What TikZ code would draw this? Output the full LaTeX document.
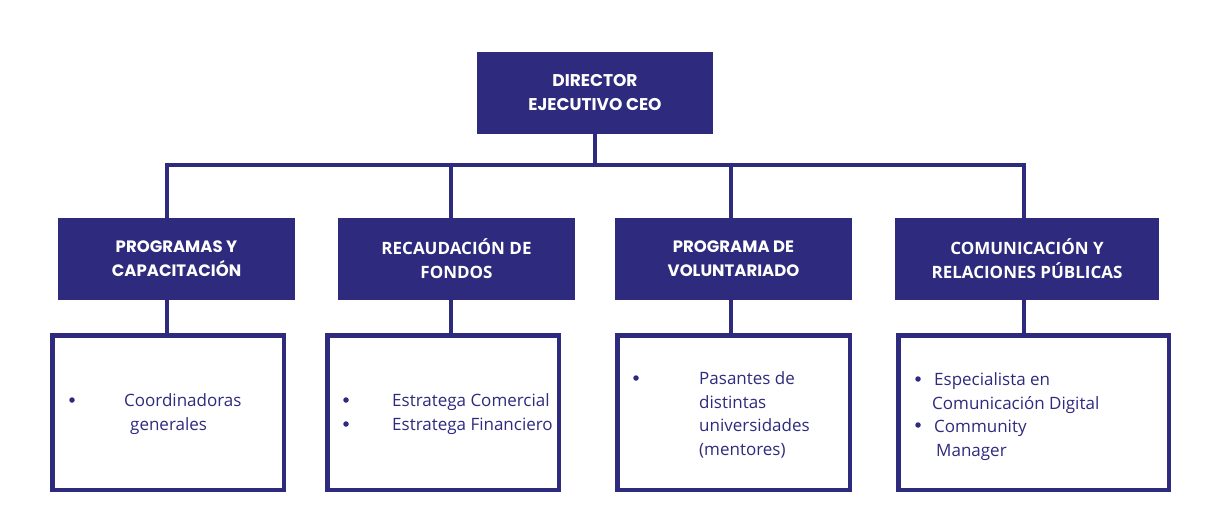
\documentclass[tikz,border=0pt]{standalone}
\usepackage{fontspec}
\setmainfont{Open Sans}
\newfontfamily\geofont{Poppins}
\usepackage{xcolor}
\usetikzlibrary{positioning}
\definecolor{navy}{RGB}{46,42,125}

\begin{document}
\begin{tikzpicture}[x=1pt,y=-1pt,
  jefe/.style={fill=navy,text=white,align=center,inner sep=0pt,
    minimum width=236pt,minimum height=81pt,
    font=\geofont\bfseries\fontsize{17}{24}\selectfont},
  area/.style={fill=navy,text=white,align=center,inner sep=0pt,
    minimum width=237pt,minimum height=82pt,
    font=\bfseries\fontsize{17}{24}\selectfont},
  geo/.style={font=\geofont\bfseries\fontsize{16.5}{24}\selectfont},
  tareas/.style={draw=navy,line width=4.5pt,inner sep=0pt,minimum height=154.5pt},
  item/.style={text=navy,align=left,anchor=north west,inner sep=0pt,
    font=\fontsize{17}{23.5}\selectfont},
  punto/.style={circle,fill=navy,inner sep=0pt,minimum size=5.5pt},
  link/.style={draw=navy,line width=4.5pt}]
  \useasboundingbox (0,0) rectangle (1227,527);

  % jefatura
  \node[jefe] (ceo) at (595,93) {DIRECTOR\\EJECUTIVO CEO};

  % areas
  \node[area,geo] (prog) at (176.5,259) {PROGRAMAS Y\\CAPACITACIÓN};
  \node[area] (fondos) at (456.5,259) {RECAUDACIÓN DE\\FONDOS};
  \node[area,geo] (volun) at (733.5,259) {PROGRAMA DE\\VOLUNTARIADO};
  \node[area,minimum width=264pt] (comu) at (1027,259) {COMUNICACIÓN Y\\RELACIONES PÚBLICAS};

  % equipos
  \node[tareas,minimum width=231.5pt] (eq1) at (168,412.5) {};
  \node[tareas,minimum width=231.5pt] (eq2) at (443,412.5) {};
  \node[tareas,minimum width=232.5pt] (eq3) at (733.5,412.5) {};
  \node[tareas,minimum width=270.5pt] (eq4) at (1033.5,412.5) {};

  % conectores
  \coordinate (bus1) at (167,165);
  \coordinate (bus2) at (451,165);
  \coordinate (bus3) at (731,165);
  \coordinate (bus4) at (1024,165);
  \draw[link] (ceo.south) -- (ceo.south |- bus1);
  \draw[link] (prog.north -| bus1) -- (bus1) -- (bus4) -- (comu.north -| bus4);
  \draw[link] (bus2) -- (fondos.north -| bus2);
  \draw[link] (bus3) -- (volun.north -| bus3);
  \draw[link] (prog.south -| bus1) -- (eq1.north -| bus1);
  \draw[link] (fondos.south -| bus2) -- (eq2.north -| bus2);
  \draw[link] (volun.south -| bus3) -- (eq3.north -| bus3);
  \draw[link] (comu.south -| bus4) -- (eq4.north -| bus4);

  % listas
  \node[punto] (p1) at (72,400) {};
  \node[item] (l1) at (124,393.5) {Coordinadoras\\\hspace*{6pt}generales};
  \node[punto] (p2a) at (346,400) {};
  \node[punto] (p2b) at (346,424) {};
  \node[item] (l2) at (392,393.5) {Estratega Comercial\\Estratega Financiero};
  \node[punto] (p3) at (636,378) {};
  \node[item] (l3) at (699,371.5) {Pasantes de\\distintas\\universidades\\(mentores)};
  \node[punto] (p4a) at (918,379) {};
  \node[punto] (p4b) at (918,425) {};
  \node[item] (l4) at (932,372.5) {\hspace*{2pt}Especialista en\\Comunicación Digital\\\hspace*{2pt}Community\\\hspace*{4pt}Manager};
\end{tikzpicture}
\end{document}
